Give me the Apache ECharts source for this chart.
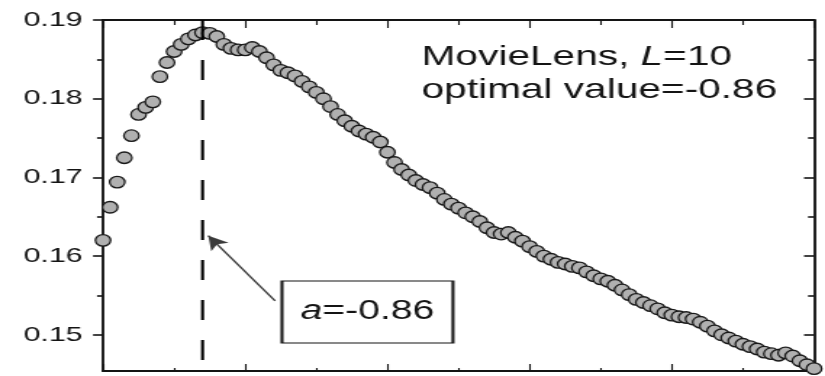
<!DOCTYPE html>
<html>
<head>
<meta charset="utf-8">
<script src="https://cdn.jsdelivr.net/npm/echarts@6/dist/echarts.min.js"></script>
<style>
  html, body { margin: 0; padding: 0; background: #fff; overflow: hidden; }
  #wrap { width: 825px; height: 376px; overflow: hidden; }
  /* the figure is drawn narrow and widened horizontally */
  #chart { width: 569px; height: 376px; transform: scaleX(1.45); transform-origin: 0 0; }
</style>
</head>
<body>
<div id="wrap"><div id="chart"></div></div>
<script>
// tuning parameter a
const aValues = [
  -1.00, -0.99, -0.98, -0.97, -0.96, -0.95, -0.94, -0.93, -0.92, -0.91,
  -0.90, -0.89, -0.88, -0.87, -0.86, -0.85, -0.84, -0.83, -0.82, -0.81,
  -0.80, -0.79, -0.78, -0.77, -0.76, -0.75, -0.74, -0.73, -0.72, -0.71,
  -0.70, -0.69, -0.68, -0.67, -0.66, -0.65, -0.64, -0.63, -0.62, -0.61,
  -0.60, -0.59, -0.58, -0.57, -0.56, -0.55, -0.54, -0.53, -0.52, -0.51,
  -0.50, -0.49, -0.48, -0.47, -0.46, -0.45, -0.44, -0.43, -0.42, -0.41,
  -0.40, -0.39, -0.38, -0.37, -0.36, -0.35, -0.34, -0.33, -0.32, -0.31,
  -0.30, -0.29, -0.28, -0.27, -0.26, -0.25, -0.24, -0.23, -0.22, -0.21,
  -0.20, -0.19, -0.18, -0.17, -0.16, -0.15, -0.14, -0.13, -0.12, -0.11,
  -0.10, -0.09, -0.08, -0.07, -0.06, -0.05, -0.04, -0.03, -0.02, -0.01,
  0.00
];

// measured score for each a (MovieLens, L=10)
const scores = [
  0.1620, 0.1662, 0.1694, 0.1725, 0.1753, 0.1780, 0.1789, 0.1796, 0.1828, 0.1846,
  0.1860, 0.1869, 0.1876, 0.1881, 0.1884, 0.1883, 0.1879, 0.1869, 0.1864, 0.1862,
  0.1862, 0.1865, 0.1860, 0.1852, 0.1843, 0.1836, 0.1833, 0.1829, 0.1822, 0.1815,
  0.1808, 0.1800, 0.1790, 0.1780, 0.1772, 0.1765, 0.1759, 0.1755, 0.1751, 0.1745,
  0.1732, 0.1719, 0.1710, 0.1703, 0.1696, 0.1691, 0.1687, 0.1680, 0.1672, 0.1666,
  0.1661, 0.1655, 0.1650, 0.1644, 0.1636, 0.1630, 0.1628, 0.1630, 0.1624, 0.1619,
  0.1612, 0.1606, 0.1600, 0.1596, 0.1592, 0.1590, 0.1587, 0.1585, 0.1580, 0.1575,
  0.1571, 0.1568, 0.1563, 0.1557, 0.1551, 0.1545, 0.1541, 0.1537, 0.1533, 0.1528,
  0.1525, 0.1523, 0.1522, 0.1520, 0.1516, 0.1511, 0.1505, 0.1500, 0.1496, 0.1492,
  0.1488, 0.1485, 0.1482, 0.1478, 0.1476, 0.1474, 0.1477, 0.1473, 0.1467, 0.1462,
  0.1457
];

const yMajorTicks = [0.15, 0.16, 0.17, 0.18, 0.19];
const yMinorTicks = [0.155, 0.165, 0.175, 0.185];
const yMin = 0.1454;
const yMax = 0.19;
const optimalA = -0.86;
const dashBottom = 0.1457;
const arrowTail = [-0.758, 0.1543];
const arrowTip = [-0.852, 0.1626];
const boxCenter = [-0.628, 0.1529];

const SX = 1.45;               // horizontal widening of the drawing
const FONT = 'Liberation Sans, Arial, sans-serif';
const INK = '#141414';

const chart = echarts.init(document.getElementById('chart'), null, { renderer: 'canvas' });

function yAxisDef(position, values, len, inside, withLabels) {
  return {
    type: 'value', min: yMin, max: yMax, position: position,
    axisLine: { show: true, onZero: false, lineStyle: { color: INK, width: 2.2 / SX } },
    axisTick: { show: true, inside: inside, length: len, customValues: values,
                lineStyle: { color: INK, width: 1.6 } },
    axisLabel: withLabels ? {
      show: true, customValues: values, margin: 14,
      fontFamily: FONT, fontSize: 21, color: INK,
      formatter: v => v.toFixed(2)
    } : { show: false },
    splitLine: { show: false }
  };
}

function xAxisDef(position, major, minor) {
  return {
    type: 'value', min: -1, max: 0, interval: 0.2, position: position,
    axisLine: { show: true, onZero: false, lineStyle: { color: INK, width: 2.2 } },
    axisTick: { show: true, inside: true, length: major, lineStyle: { color: INK, width: 1.6 / SX } },
    minorTick: { show: true, splitNumber: 2, length: minor, lineStyle: { color: INK, width: 1.6 / SX } },
    axisLabel: { show: false },
    splitLine: { show: false }
  };
}

chart.setOption({
  animation: false,
  backgroundColor: '#fff',
  grid: { left: 103 / SX, right: 11 / SX, top: 20, bottom: 5, containLabel: false },
  title: {
    left: 290.8, top: 41, padding: 0,
    text: '{n|MovieLens, }{i|L}{n|=10}\n{n|optimal value=-0.86}',
    textStyle: {
      fontWeight: 'normal',
      rich: {
        n: { fontFamily: FONT, fontSize: 28, fontWeight: 'normal', color: INK, lineHeight: 33 },
        i: { fontFamily: FONT, fontSize: 28, fontWeight: 'normal', color: INK, fontStyle: 'italic', lineHeight: 33 }
      }
    }
  },
  xAxis: [
    xAxisDef('bottom', 7, 3),
    xAxisDef('top', 8, 5)
  ],
  yAxis: [
    yAxisDef('left', yMajorTicks, 10 / SX, false, true),
    yAxisDef('left', yMinorTicks, 6 / SX, false, false),
    yAxisDef('right', yMajorTicks, 10 / SX, true, false),
    yAxisDef('right', yMinorTicks, 6 / SX, true, false)
  ],
  series: [
    {
      type: 'scatter',
      xAxisIndex: 0, yAxisIndex: 0,
      data: aValues.map((a, i) => [a, scores[i]]),
      symbol: 'circle',
      symbolSize: [10.5, 11.5],
      itemStyle: { color: '#b0b0b0', borderColor: '#181818', borderWidth: 1.3, opacity: 1 },
      z: 2,
      clip: true,
      markLine: {
        silent: true,
        symbol: ['none', 'arrow'],
        symbolSize: [11, 14],
        label: { show: false },
        lineStyle: { color: '#3a3a3a', width: 1.4, type: 'solid' },
        data: [[{ coord: arrowTail }, { coord: arrowTip }]],
        z: 4
      },
      markPoint: {
        silent: true,
        symbol: 'rect',
        symbolSize: [171 / SX, 62],
        itemStyle: { color: '#fff', borderColor: INK, borderWidth: 1.5 },
        label: {
          show: true, position: 'inside',
          formatter: '{i|a}{n|=-0.86}',
          rich: {
            n: { fontFamily: FONT, fontSize: 27, color: INK },
            i: { fontFamily: FONT, fontSize: 27, color: INK, fontStyle: 'italic' }
          }
        },
        data: [{ coord: boxCenter }],
        z: 5
      }
    },
    {
      type: 'line',
      xAxisIndex: 0, yAxisIndex: 0,
      data: [[optimalA, yMax], [optimalA, dashBottom]],
      showSymbol: false, symbol: 'none',
      lineStyle: { color: '#000', width: 3 / SX, type: [20, 20] },
      z: 3,
      silent: true
    }
  ]
});
</script>
</body>
</html>
